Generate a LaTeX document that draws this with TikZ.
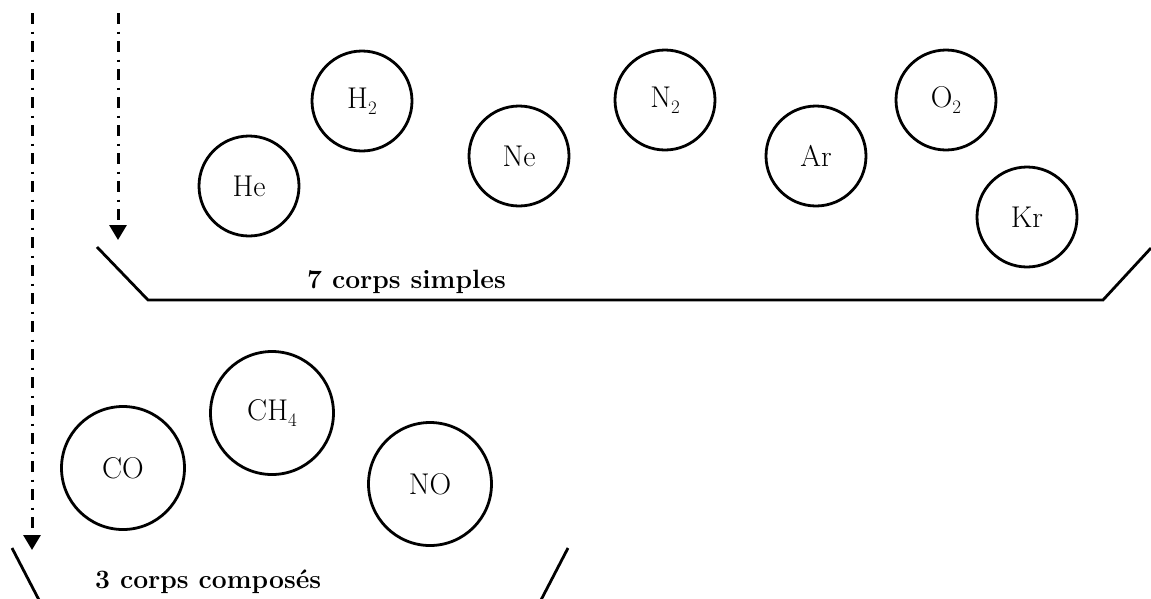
\documentclass[tikz,border=0pt]{standalone}
\usetikzlibrary{arrows.meta}
\newcommand\molsub[1]{\raisebox{-0.45ex}{\fontsize{19}{19}\selectfont #1}}
\begin{document}
\begin{tikzpicture}[x=1pt,y=-1pt,
  molecule/.style={draw,circle,line width=2.8pt,inner sep=0pt,minimum size=100pt,
    font=\fontsize{30}{34}\selectfont},
  bigmolecule/.style={molecule,minimum size=123pt},
  tray/.style={line width=2.8pt},
  flowarrow/.style={line width=3pt,dash pattern=on 11pt off 7.5pt on 2pt off 7.5pt,
    -{Triangle[width=17pt,length=15pt]}},
  traylabel/.style={anchor=base west,inner sep=0pt,font=\fontsize{26.5}{30}\bfseries\selectfont}]
\useasboundingbox (0,0) rectangle (1151,598);

% simple substances
\node[molecule] (he) at (249,186) {He};
\node[molecule] (h2) at (362,101) {H\molsub{2}};
\node[molecule] (ne) at (519,156) {Ne};
\node[molecule] (n2) at (665,100) {N\molsub{2}};
\node[molecule] (ar) at (816,156) {Ar};
\node[molecule] (o2) at (946,100) {O\molsub{2}};
\node[molecule] (kr) at (1027,217) {Kr};

% upper tray
\coordinate (t1) at (97,247);
\coordinate (t2) at (148,300);
\coordinate (t3) at (1103,300);
\coordinate (t4) at (1151,248);
\draw[tray] (t1) -- (t2) -- (t3) -- (t4);
\node[traylabel] (simples) at (307,288) {7 corps simples};

% compound substances
\node[bigmolecule] (co) at (123,468) {CO};
\node[bigmolecule] (ch4) at (272,413) {CH\molsub{4}};
\node[bigmolecule] (no) at (430,484) {NO};

% lower tray
\coordinate (b1) at (12,548);
\coordinate (b2) at (39,600);
\coordinate (b3) at (568,548);
\coordinate (b4) at (541,600);
\draw[tray] (b1) -- (b2);
\draw[tray] (b3) -- (b4);
\node[traylabel] (composes) at (95,588) {3 corps composés};

% falling arrows
\coordinate (a1s) at (118,13);
\coordinate (a1e) at (118,240);
\coordinate (a2s) at (32,13);
\coordinate (a2e) at (32,550);
\draw[flowarrow] (a1s) -- (a1e);
\draw[flowarrow] (a2s) -- (a2e);
\end{tikzpicture}
\end{document}
